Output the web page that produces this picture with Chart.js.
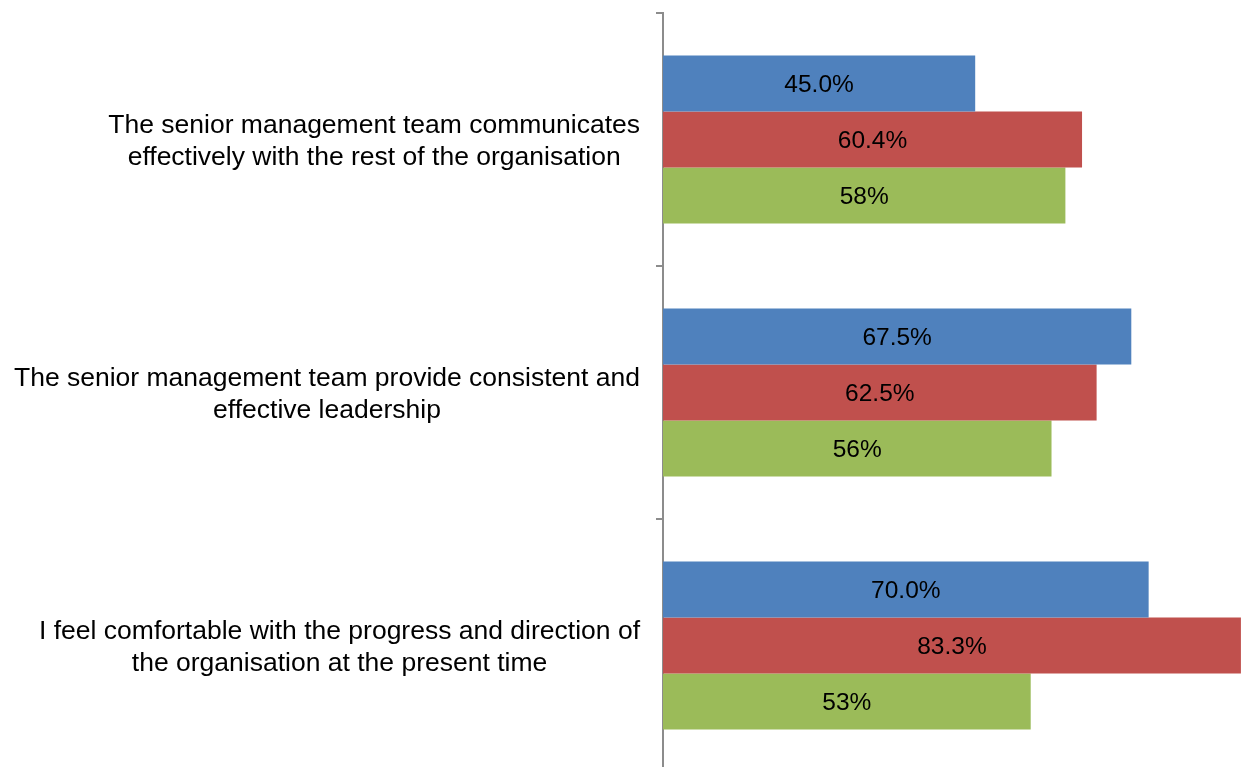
<!DOCTYPE html>
<html>
<head>
<meta charset="utf-8">
<script src="https://cdn.jsdelivr.net/npm/chart.js@4"></script>
<style>
  html, body { margin: 0; padding: 0; background: #fff; overflow: hidden; }
  #wrap { width: 1243px; height: 775px; }
</style>
</head>
<body>
<div id="wrap"><canvas id="myChart"></canvas></div>
<script>
const categories = [
    ["The senior management team communicates", "effectively with the rest of the organisation"],
    ["The senior management team provide consistent and", "effective leadership"],
    ["I feel comfortable with the progress and direction of", "the organisation at the present time"]
];
const seriesBlue = [45.0, 67.5, 70.0];
const seriesRed = [60.4, 62.5, 83.3];
const seriesGreen = [58, 56, 53];
const seriesDecimals = [1, 1, 0];

const FONT = "'Liberation Sans', Arial, sans-serif";

// draws the value in the middle of each bar
const valueLabels = {
    id: 'valueLabels',
    afterDatasetsDraw(chart) {
        const ctx = chart.ctx;
        ctx.save();
        ctx.font = '24.5px ' + FONT;
        ctx.fillStyle = '#000';
        ctx.textAlign = 'center';
        ctx.textBaseline = 'middle';
        chart.data.datasets.forEach((ds, i) => {
            chart.getDatasetMeta(i).data.forEach((bar, j) => {
                const x = (bar.x + bar.base) / 2;
                ctx.fillText(ds.data[j].toFixed(seriesDecimals[i]) + '%', x, bar.y + 2);
            });
        });
        ctx.restore();
    }
};

// category labels: block right-aligned to the axis, lines centred inside the block
const categoryLabels = {
    id: 'categoryLabels',
    afterDraw(chart) {
        const ctx = chart.ctx;
        const yScale = chart.scales.y;
        const lineH = 32;
        ctx.save();
        ctx.font = '26.5px ' + FONT;
        ctx.fillStyle = '#000';
        ctx.textAlign = 'center';
        ctx.textBaseline = 'middle';
        chart.data.labels.forEach((lines, i) => {
            const w = Math.max(...lines.map(l => ctx.measureText(l).width));
            const cx = yScale.right - 23 - w / 2;
            const cy = yScale.getPixelForValue(i) + 2;
            const top = cy - (lines.length - 1) * lineH / 2;
            lines.forEach((l, k) => ctx.fillText(l, cx, top + k * lineH));
        });
        ctx.restore();
    }
};

document.addEventListener('DOMContentLoaded', () => {
    const data = {
        labels: categories,
        datasets: [
            { data: seriesBlue, backgroundColor: '#4F81BD' },
            { data: seriesRed, backgroundColor: '#C0504D' },
            { data: seriesGreen, backgroundColor: '#9BBB59' }
        ]
    };
    const config = {
        type: 'bar',
        data: data,
        options: {
            indexAxis: 'y',
            responsive: true,
            maintainAspectRatio: false,
            animation: false,
            layout: { padding: { top: 13, bottom: 3, left: 0, right: 0 } },
            datasets: {
                bar: { barPercentage: 1, categoryPercentage: 0.664 }
            },
            scales: {
                x: {
                    display: false,
                    min: 0,
                    max: 83.6
                },
                y: {
                    afterFit(scale) {
                        scale.width = 663;
                        scale.paddingTop = 0;
                        scale.paddingBottom = 0;
                    },
                    border: { display: true, color: '#8c8c8c', width: 2 },
                    grid: {
                        drawOnChartArea: false,
                        drawTicks: true,
                        tickLength: 7,
                        color: '#8c8c8c',
                        lineWidth: 2
                    },
                    ticks: { display: false }
                }
            },
            plugins: {
                legend: { display: false },
                tooltip: { enabled: false }
            }
        },
        plugins: [valueLabels, categoryLabels]
    };
    new Chart(document.getElementById('myChart'), config);
});
</script>
</body>
</html>
